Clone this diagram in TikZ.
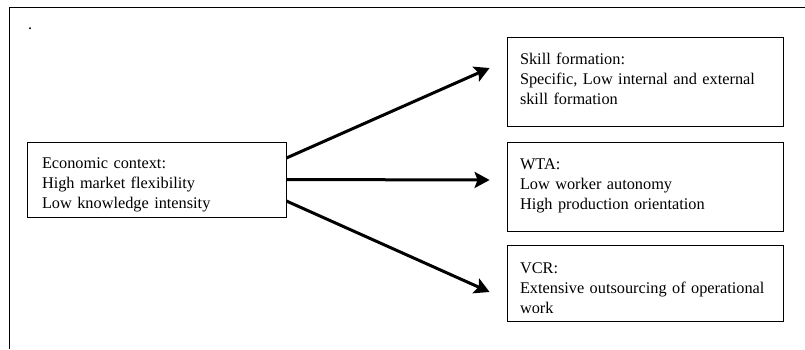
\documentclass[tikz,border=0pt]{standalone}
\usepackage{fontspec}
\setmainfont{Liberation Serif}
\usetikzlibrary{arrows.meta}

\begin{document}
\begin{tikzpicture}[x=1pt, y=-1pt,
    ctxbox/.style={draw, line width=0.8pt, align=left, text width=229pt, inner xsep=15pt,
                 minimum height=75pt, font=\fontsize{16.3}{20}\selectfont,
                 execute at begin node={\rule{0pt}{22pt}}},
    outbox/.style={draw, line width=0.8pt, align=left, text width=250pt, inner xsep=13pt,
                 font=\fontsize{16.3}{20}\selectfont,
                 execute at begin node={\rule{0pt}{22pt}}},
    flow/.style={-{Stealth[length=15pt, width=16pt, inset=3pt]}, line width=3pt},
  ]
    \useasboundingbox (0,0) rectangle (805,349);
    \draw[line width=1pt] (9,349) -- (9,7) -- (805,7);
    \node[anchor=base west, inner sep=0pt, font=\fontsize{16.3}{20}\selectfont] (dot) at (28,29) {.};
    \node[ctxbox] (ctx) at (156.5,179.5) {Economic context:\\High market flexibility\\Low knowledge intensity};
    \node[outbox, minimum height=89pt] (skill) at (645,81.5) {Skill formation:\\Specific, Low internal and external\\skill formation\rule[-16pt]{0pt}{1pt}};
    \node[outbox, minimum height=89pt] (wta) at (645,186.5) {WTA:\\Low worker autonomy\\High production orientation\rule[-16pt]{0pt}{1pt}};
    \node[outbox, minimum height=76pt] (vcr) at (645,283) {VCR:\\Extensive outsourcing of operational\\work};
    \draw[flow] ([yshift=21.5pt]ctx.east) -- ([xshift=-17pt, yshift=13.5pt]skill.west);
    \draw[flow] (ctx.east) -- ([xshift=-17pt, yshift=6.5pt]wta.west);
    \draw[flow] ([yshift=-21.5pt]ctx.east) -- ([xshift=-17pt, yshift=-9pt]vcr.west);
  \end{tikzpicture}
\end{document}
